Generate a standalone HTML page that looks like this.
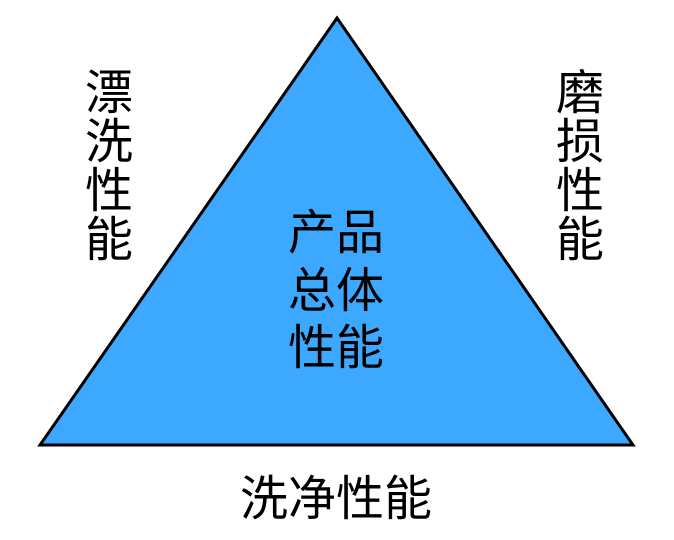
<!DOCTYPE html>
<html><head><meta charset="utf-8"><style>
html,body{margin:0;padding:0;background:#fff;width:674px;height:540px;overflow:hidden}
text{font-family:"Liberation Sans","Noto Sans CJK SC",sans-serif;font-size:48px;fill:#000}
</style></head><body>
<svg width="674" height="540" viewBox="0 0 674 540" xmlns="http://www.w3.org/2000/svg">
<polygon points="337,18 40,445 633,445" fill="#3ca8ff" stroke="#000" stroke-width="3" stroke-linejoin="miter"/>
<g text-anchor="middle">
<text x="109" y="109">漂</text>
<text x="109" y="158">洗</text>
<text x="109" y="207">性</text>
<text x="109" y="256">能</text>
<text x="580" y="109">磨</text>
<text x="580" y="158">损</text>
<text x="580" y="207">性</text>
<text x="580" y="256">能</text>
<text x="336" y="249">产品</text>
<text x="336" y="307">总体</text>
<text x="336" y="364">性能</text>
<text x="336" y="515">洗净性能</text>
</g>
</svg>
</body></html>
